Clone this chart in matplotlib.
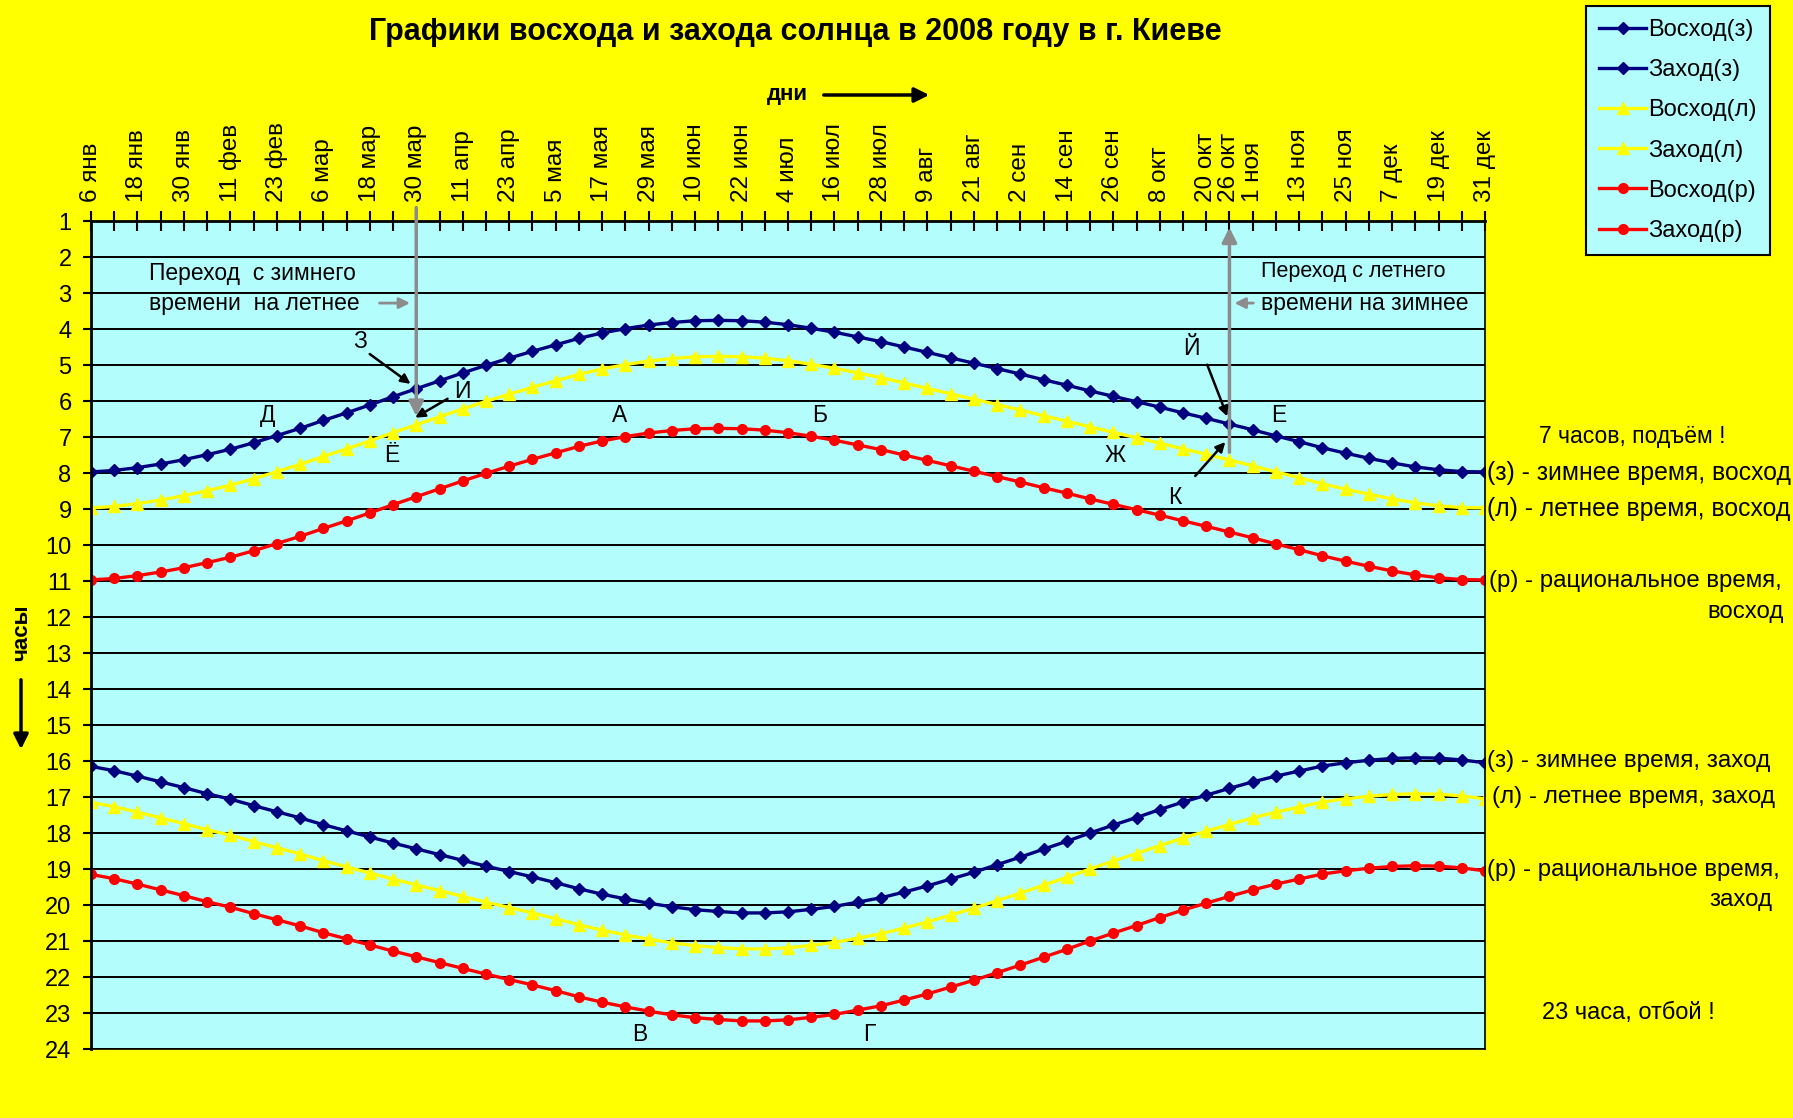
import numpy as np
import matplotlib.pyplot as plt
import matplotlib.transforms as mtransforms
from matplotlib.patches import FancyArrowPatch

plt.rcParams['font.family'] = ['Liberation Sans', 'DejaVu Sans']

# даты (каждые 6 дней, 2008 г.)
dates = ["6 янв", "12 янв", "18 янв", "24 янв", "30 янв", "5 фев", "11 фев", "17 фев",
         "23 фев", "29 фев", "6 мар", "12 мар", "18 мар", "24 мар", "30 мар", "5 апр",
         "11 апр", "17 апр", "23 апр", "29 апр", "5 мая", "11 мая", "17 мая", "23 мая",
         "29 мая", "4 июн", "10 июн", "16 июн", "22 июн", "28 июн", "4 июл", "10 июл",
         "16 июл", "22 июл", "28 июл", "3 авг", "9 авг", "15 авг", "21 авг", "27 авг",
         "2 сен", "8 сен", "14 сен", "20 сен", "26 сен", "2 окт", "8 окт", "14 окт",
         "20 окт", "26 окт", "1 ноя", "7 ноя", "13 ноя", "19 ноя", "25 ноя", "1 дек",
         "7 дек", "13 дек", "19 дек", "25 дек", "31 дек"]
extra_label = "26 окт"

# восход / заход, часы
voshod_z = [7.97, 7.93, 7.85, 7.75, 7.63, 7.49, 7.34, 7.16, 6.96, 6.76,
            6.54, 6.33, 6.11, 5.88, 5.66, 5.44, 5.22, 5.01, 4.81, 4.62,
            4.44, 4.26, 4.11, 3.99, 3.89, 3.82, 3.77, 3.76, 3.77, 3.81,
            3.88, 3.98, 4.09, 4.22, 4.35, 4.50, 4.65, 4.80, 4.95, 5.10,
            5.25, 5.41, 5.56, 5.72, 5.87, 6.02, 6.17, 6.33, 6.48, 6.64,
            6.80, 6.97, 7.13, 7.30, 7.45, 7.59, 7.72, 7.83, 7.91, 7.96, 7.97]
zahod_z = [16.15, 16.27, 16.42, 16.58, 16.74, 16.91, 17.06, 17.24, 17.41, 17.58,
           17.77, 17.94, 18.11, 18.28, 18.44, 18.60, 18.76, 18.92, 19.07, 19.22,
           19.38, 19.55, 19.70, 19.83, 19.95, 20.05, 20.13, 20.18, 20.22, 20.22,
           20.19, 20.12, 20.04, 19.92, 19.80, 19.64, 19.47, 19.28, 19.09, 18.88,
           18.67, 18.45, 18.23, 18.00, 17.78, 17.57, 17.35, 17.14, 16.95, 16.76,
           16.58, 16.42, 16.28, 16.14, 16.05, 15.98, 15.93, 15.91, 15.92, 15.97, 16.05]
voshod_l = [8.97, 8.93, 8.85, 8.75, 8.63, 8.49, 8.34, 8.16, 7.96, 7.76,
            7.54, 7.33, 7.11, 6.88, 6.66, 6.44, 6.22, 6.01, 5.81, 5.62,
            5.44, 5.26, 5.11, 4.99, 4.89, 4.82, 4.77, 4.76, 4.77, 4.81,
            4.88, 4.98, 5.09, 5.22, 5.35, 5.50, 5.65, 5.80, 5.95, 6.10,
            6.25, 6.41, 6.56, 6.72, 6.87, 7.02, 7.17, 7.33, 7.48, 7.64,
            7.80, 7.97, 8.13, 8.30, 8.45, 8.59, 8.72, 8.83, 8.91, 8.96, 8.97]
zahod_l = [17.15, 17.27, 17.42, 17.58, 17.74, 17.91, 18.06, 18.24, 18.41, 18.58,
           18.77, 18.94, 19.11, 19.28, 19.44, 19.60, 19.76, 19.92, 20.07, 20.22,
           20.38, 20.55, 20.70, 20.83, 20.95, 21.05, 21.13, 21.18, 21.22, 21.22,
           21.19, 21.12, 21.04, 20.92, 20.80, 20.64, 20.47, 20.28, 20.09, 19.88,
           19.67, 19.45, 19.23, 19.00, 18.78, 18.57, 18.35, 18.14, 17.95, 17.76,
           17.58, 17.42, 17.28, 17.14, 17.05, 16.98, 16.93, 16.91, 16.92, 16.97, 17.05]
voshod_r = [10.97, 10.93, 10.85, 10.75, 10.63, 10.49, 10.34, 10.16, 9.96, 9.76,
            9.54, 9.33, 9.11, 8.88, 8.66, 8.44, 8.22, 8.01, 7.81, 7.62,
            7.44, 7.26, 7.11, 6.99, 6.89, 6.82, 6.77, 6.76, 6.77, 6.81,
            6.88, 6.98, 7.09, 7.22, 7.35, 7.50, 7.65, 7.80, 7.95, 8.10,
            8.25, 8.41, 8.56, 8.72, 8.87, 9.02, 9.17, 9.33, 9.48, 9.64,
            9.80, 9.97, 10.13, 10.30, 10.45, 10.59, 10.72, 10.83, 10.91, 10.96, 10.97]
zahod_r = [19.15, 19.27, 19.42, 19.58, 19.74, 19.91, 20.06, 20.24, 20.41, 20.58,
           20.77, 20.94, 21.11, 21.28, 21.44, 21.60, 21.76, 21.92, 22.07, 22.22,
           22.38, 22.55, 22.70, 22.83, 22.95, 23.05, 23.13, 23.18, 23.22, 23.22,
           23.19, 23.12, 23.04, 22.92, 22.80, 22.64, 22.47, 22.28, 22.09, 21.88,
           21.67, 21.45, 21.23, 21.00, 20.78, 20.57, 20.35, 20.14, 19.95, 19.76,
           19.58, 19.42, 19.28, 19.14, 19.05, 18.98, 18.93, 18.91, 18.92, 18.97, 19.05]

W, H = 1793, 1118
BLUE = '#000080'
YEL = '#ffff00'
RED = '#ff0000'
GRAY = '#8c8c8c'

fig = plt.figure(figsize=(W / 100, H / 100), dpi=100, facecolor=YEL)
ax = fig.add_axes([91 / W, 1 - 1049 / H, (1485 - 91) / W, (1049 - 221) / H])
ax.set_facecolor('#b3fdfd')

x = np.arange(len(dates))
ax.plot(x, voshod_z, color=BLUE, marker='D', ms=6.5, lw=2.4, label='Восход(з)')
ax.plot(x, zahod_z, color=BLUE, marker='D', ms=6.5, lw=2.4, label='Заход(з)')
ax.plot(x, voshod_l, color=YEL, marker='^', ms=8, lw=2.4, label='Восход(л)')
ax.plot(x, zahod_l, color=YEL, marker='^', ms=8, lw=2.4, label='Заход(л)')
ax.plot(x, voshod_r, color=RED, marker='o', ms=7, lw=2.4, label='Восход(р)')
ax.plot(x, zahod_r, color=RED, marker='o', ms=7, lw=2.4, label='Заход(р)')

ax.set_xlim(0, len(dates) - 1)
ax.set_ylim(24, 1)
ax.set_yticks(range(1, 25))
ax.xaxis.tick_top()
ax.set_xticks(x)
labels = [d if (i % 2 == 0 or d == extra_label) else '' for i, d in enumerate(dates)]
ax.set_xticklabels(labels, rotation=90, fontsize=17.5)
ax.tick_params(axis='x', direction='inout', length=14, width=1.5, pad=7)
ax.tick_params(axis='y', direction='out', length=6, width=1.5, labelsize=17, pad=8)
ax.yaxis.grid(True, color='black', lw=1.4)
ax.set_axisbelow(True)
for s in ['left', 'top']:
    ax.spines[s].set_linewidth(2)
for s in ['right', 'bottom']:
    ax.spines[s].set_linewidth(1.2)

# переход на летнее / зимнее время
ax.annotate('', xy=(14, 6.5), xytext=(14, 0.55), annotation_clip=False,
            arrowprops=dict(arrowstyle='-|>', color=GRAY, lw=2.5, mutation_scale=22))
ax.annotate('', xy=(49, 1.1), xytext=(49, 7.5), annotation_clip=False,
            arrowprops=dict(arrowstyle='-|>', color=GRAY, lw=2.5, mutation_scale=22))
ax.annotate('', xy=(13.85, 3.28), xytext=(12.3, 3.28),
            arrowprops=dict(arrowstyle='-|>', color=GRAY, lw=2, mutation_scale=16))
ax.annotate('', xy=(49.1, 3.28), xytext=(50.15, 3.28),
            arrowprops=dict(arrowstyle='-|>', color=GRAY, lw=2, mutation_scale=16))
ax.text(2.5, 2.47, 'Переход  с зимнего', fontsize=16.5, va='center')
ax.text(2.5, 3.28, 'времени  на летнее', fontsize=16.5, va='center')
ax.text(50.35, 2.4, 'Переход с летнего', fontsize=15.5, va='center')
ax.text(50.35, 3.28, 'времени на зимнее', fontsize=16.5, va='center')

# буквенные пометки
letters = [('Д', 7.62, 6.39), ('Ё', 12.96, 7.5), ('А', 22.73, 6.39), ('Б', 31.34, 6.39),
           ('Е', 51.14, 6.39), ('Ж', 44.1, 7.5), ('В', 23.63, 23.6), ('Г', 33.49, 23.6)]
for t, lx, ly in letters:
    ax.text(lx, ly, t, fontsize=16.5, ha='center', va='center')
pointers = [('З', (11.58, 4.36), (11.9, 4.65), (13.85, 5.57)),
            ('И', (16.0, 5.75), (15.45, 5.9), (13.85, 6.5)),
            ('Й', (47.35, 4.53), (48.0, 4.92), (48.95, 6.5)),
            ('К', (46.66, 8.67), (47.45, 8.14), (48.9, 7.08))]
for t, pos, start, end in pointers:
    ax.text(pos[0], pos[1], t, fontsize=16.5, ha='center', va='center')
    ax.annotate('', xy=end, xytext=start,
                arrowprops=dict(arrowstyle='-|>', color='black', lw=1.8, mutation_scale=14))

# подписи справа
tr = mtransforms.blended_transform_factory(fig.transFigure, ax.transData)
side = [('7 часов, подъём !', 1632, 7, 'center', 16.5),
        ('(з) - зимнее время, восход', 1487, 8, 'left', 17.8),
        ('(л) - летнее время, восход', 1487, 9, 'left', 17.8),
        ('(р) - рациональное время,', 1489, 11, 'left', 17.3),
        ('восход', 1784, 11.86, 'right', 17.3),
        ('(з) - зимнее время, заход', 1487, 16, 'left', 17.5),
        ('(л) - летнее время, заход', 1492, 17, 'left', 17.5),
        ('(р) - рациональное время,', 1487, 19.03, 'left', 17.3),
        ('заход', 1772, 19.86, 'right', 17.3),
        ('23 часа, отбой !', 1628, 23, 'center', 17)]
for t, px, hy, ha, fs in side:
    ax.text(px / W, hy, t, transform=tr, fontsize=fs, ha=ha, va='center', clip_on=False)

fig.text(795 / W, 1 - 32 / H, 'Графики восхода и захода солнца в 2008 году в г. Киеве',
         fontsize=22, fontweight='bold', ha='center', va='center')
fig.text(787 / W, 1 - 95 / H, 'дни', fontsize=16, fontweight='bold', ha='center', va='center')
fig.patches.append(FancyArrowPatch(
    (821 / W, 1 - 95 / H), (932 / W, 1 - 95 / H), transform=fig.transFigure,
    arrowstyle='-|>', mutation_scale=22, lw=2.5, color='black'))
fig.text(22 / W, 1 - 633 / H, 'часы', fontsize=16, fontweight='bold', rotation=90,
         ha='center', va='center')
fig.patches.append(FancyArrowPatch(
    (21 / W, 1 - 677 / H), (21 / W, 1 - 752 / H), transform=fig.transFigure,
    arrowstyle='-|>', mutation_scale=22, lw=2.5, color='black'))

leg = fig.legend(loc='upper left', bbox_to_anchor=(1586 / W, 1 - 6 / H), fontsize=17,
                 frameon=True, fancybox=False, facecolor='#b3fdfd', edgecolor='black',
                 framealpha=1, handlelength=2.0, handletextpad=0.1, labelspacing=0.77,
                 borderpad=0.55, borderaxespad=0)
leg.get_frame().set_linewidth(1.5)

fig.savefig('out.png', dpi=100, facecolor=YEL)
